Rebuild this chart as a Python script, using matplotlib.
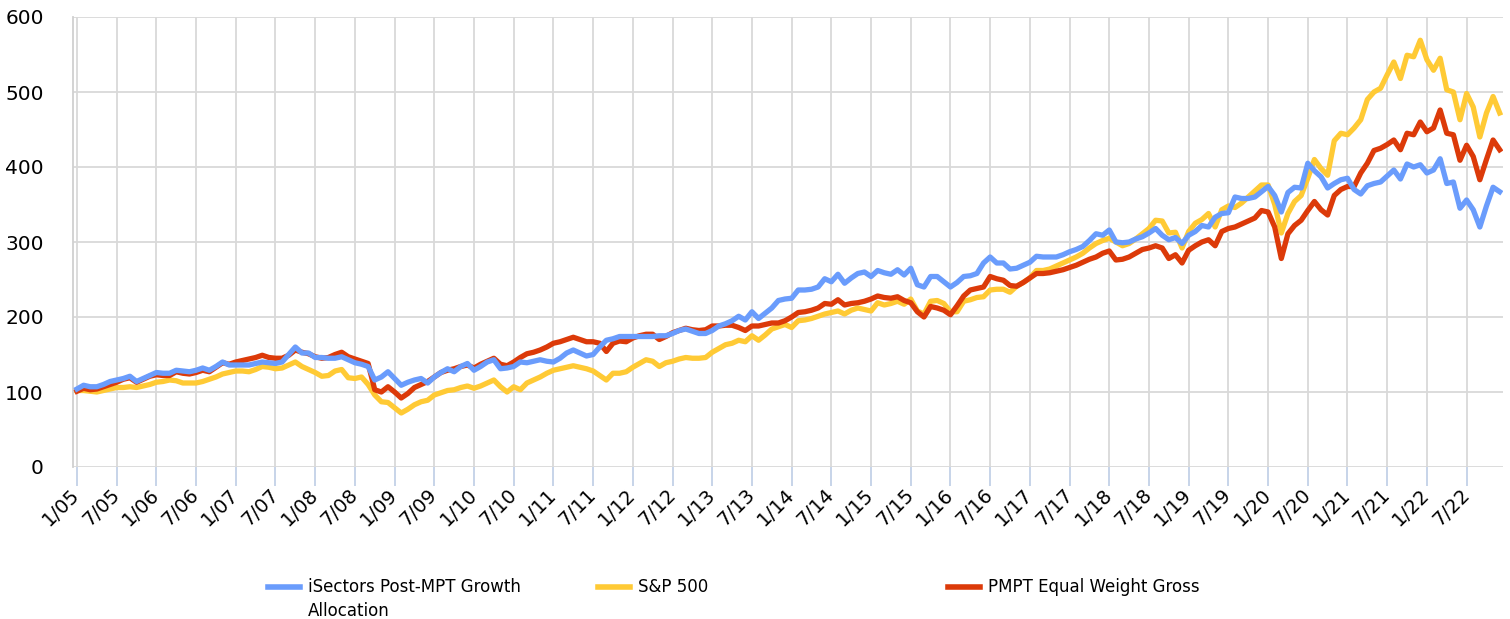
import matplotlib
matplotlib.use("Agg")
import matplotlib.pyplot as plt
from matplotlib.lines import Line2D
import numpy as np

# monthly index values, 1/05 .. 12/22
isectors = [
    104, 109, 107, 107, 110, 114, 116, 118, 121, 114, 118, 122,  # 2005
    126, 125, 125, 129, 128, 127, 129, 132, 129, 134, 140, 136,  # 2006
    136, 136, 136, 138, 140, 139, 138, 140, 150, 160, 152, 152,  # 2007
    146, 146, 145, 145, 147, 143, 139, 137, 134, 116, 120, 127,  # 2008
    118, 109, 113, 116, 118, 112, 120, 126, 131, 127, 134, 138,  # 2009
    129, 134, 140, 143, 131, 132, 134, 140, 139, 141, 143, 141,  # 2010
    140, 145, 152, 156, 152, 148, 150, 160, 169, 171, 174, 174,  # 2011
    174, 174, 174, 174, 175, 175, 178, 182, 184, 181, 178, 178,  # 2012
    182, 188, 191, 195, 201, 196, 207, 198, 205, 212, 222, 224,  # 2013
    225, 236, 236, 237, 240, 251, 247, 257, 245, 252, 258, 260,  # 2014
    254, 262, 259, 257, 263, 256, 265, 243, 240, 254, 254, 247,  # 2015
    240, 246, 254, 255, 258, 272, 280, 272, 272, 264, 265, 269,  # 2016
    273, 281, 280, 280, 280, 283, 287, 290, 294, 302, 311, 309,  # 2017
    316, 300, 299, 300, 304, 307, 312, 318, 309, 303, 306, 298,  # 2018
    309, 314, 322, 320, 333, 338, 339, 360, 358, 358, 360, 367,  # 2019
    374, 362, 340, 366, 373, 372, 405, 395, 387, 372, 378, 383,  # 2020
    385, 370, 364, 375, 378, 380, 388, 396, 384, 404, 400, 403,  # 2021
    392, 396, 411, 378, 380, 345, 356, 343, 320, 348, 373, 367,  # 2022
]

sp500 = [
    102, 102, 101, 100, 102, 104, 106, 106, 107, 106, 108, 110,  # 2005
    113, 114, 116, 115, 112, 112, 112, 114, 117, 120, 124, 126,  # 2006
    128, 128, 127, 130, 134, 133, 131, 132, 136, 140, 134, 130,  # 2007
    126, 121, 122, 128, 130, 119, 118, 120, 110, 96, 87, 86,  # 2008
    79, 72, 77, 83, 87, 89, 96, 99, 102, 103, 106, 108,  # 2009
    105, 108, 112, 116, 107, 100, 107, 103, 112, 116, 120, 125,  # 2010
    129, 131, 133, 135, 133, 131, 128, 122, 116, 125, 125, 127,  # 2011
    133, 138, 143, 141, 134, 139, 141, 144, 146, 145, 145, 146,  # 2012
    153, 158, 163, 165, 169, 167, 175, 169, 176, 184, 187, 190,  # 2013
    186, 195, 196, 198, 201, 204, 206, 208, 204, 209, 212, 210,  # 2014
    208, 219, 216, 218, 221, 217, 224, 208, 204, 221, 222, 218,  # 2015
    207, 207, 221, 223, 226, 227, 236, 237, 237, 233, 241, 246,  # 2016
    252, 262, 262, 264, 268, 272, 276, 280, 285, 292, 298, 302,  # 2017
    305, 300, 295, 298, 304, 311, 318, 329, 328, 312, 313, 292,  # 2018
    314, 325, 330, 338, 320, 343, 348, 346, 352, 360, 368, 376,  # 2019
    376, 350, 312, 338, 354, 362, 385, 410, 398, 389, 435, 445,  # 2020
    443, 452, 463, 490, 500, 505, 523, 540, 518, 549, 547, 569,  # 2021
    543, 529, 545, 503, 500, 463, 498, 480, 440, 472, 494, 472,  # 2022
]

pmpt = [
    101, 105, 103, 104, 107, 110, 113, 117, 119, 113, 117, 121,  # 2005
    123, 122, 122, 127, 125, 124, 126, 129, 127, 133, 139, 137,  # 2006
    140, 142, 144, 146, 149, 146, 145, 145, 149, 156, 153, 151,  # 2007
    147, 145, 146, 150, 153, 147, 144, 141, 138, 103, 100, 107,  # 2008
    100, 92, 98, 106, 110, 114, 120, 126, 129, 131, 134, 136,  # 2009
    132, 137, 141, 145, 137, 135, 140, 146, 151, 153, 156, 160,  # 2010
    165, 167, 170, 173, 170, 167, 167, 165, 154, 165, 168, 167,  # 2011
    172, 175, 177, 177, 170, 174, 179, 182, 185, 183, 182, 183,  # 2012
    188, 188, 189, 189, 186, 182, 188, 188, 190, 192, 192, 195,  # 2013
    200, 206, 207, 209, 212, 218, 217, 223, 216, 218, 219, 221,  # 2014
    224, 228, 226, 225, 227, 222, 219, 207, 200, 214, 212, 209,  # 2015
    203, 215, 228, 236, 238, 240, 254, 251, 249, 242, 241, 246,  # 2016
    252, 258, 258, 259, 261, 263, 266, 269, 273, 277, 280, 285,  # 2017
    288, 276, 277, 280, 285, 290, 292, 295, 292, 278, 283, 272,  # 2018
    289, 295, 300, 303, 295, 314, 318, 320, 324, 328, 332, 342,  # 2019
    340, 320, 278, 311, 322, 329, 342, 354, 343, 336, 362, 370,  # 2020
    374, 374, 392, 405, 422, 425, 430, 436, 423, 445, 443, 460,  # 2021
    447, 452, 476, 445, 443, 409, 429, 414, 383, 410, 436, 423,  # 2022
]

tick_labels = []
for yy in range(5, 23):
    tick_labels += ["1/%02d" % yy, "7/%02d" % yy]

labels = ["iSectors Post-MPT Growth\nAllocation", "S&P 500", "PMPT Equal Weight Gross"]
colors = ["#6a9cfc", "#ffca35", "#dc3a09"]

x = np.arange(len(isectors))

fig = plt.figure(figsize=(15.1, 6.19), dpi=100)
ax = fig.add_axes([73 / 1510, 1 - 467 / 619, (1503 - 73) / 1510, (467 - 17) / 619])

ax.plot(x, sp500, color=colors[1], lw=3.8, zorder=3, solid_joinstyle="round")
ax.plot(x, pmpt, color=colors[2], lw=3.8, zorder=4, solid_joinstyle="round")
ax.plot(x, isectors, color=colors[0], lw=3.8, zorder=5, solid_joinstyle="round")

ax.set_xlim(-0.6, 215.5)
ax.set_ylim(0, 600)
ax.set_yticks(range(0, 601, 100))
ax.set_xticks(np.arange(0, len(x), 6))
ax.set_xticklabels(tick_labels, rotation=45, ha="right", va="center",
                   rotation_mode="anchor", fontsize=14)

ax.grid(True, color="#d9d9d9", lw=1.3, zorder=0)
ax.set_axisbelow(True)
for s in ["top", "right", "bottom"]:
    ax.spines[s].set_visible(False)
ax.spines["left"].set_color("#d0d0d0")
ax.spines["left"].set_linewidth(1.3)

ax.tick_params(axis="y", length=0, pad=21, labelsize=14.5)
ax.tick_params(axis="x", length=14, width=1.1, color="#b8c9e3", pad=4)

# legend drawn by hand to keep Excel-like placement
fig.add_artist(Line2D([268 / 1510, 300 / 1510], [1 - 587 / 619] * 2, color=colors[0], lw=4))
fig.add_artist(Line2D([598 / 1510, 630 / 1510], [1 - 587 / 619] * 2, color=colors[1], lw=4))
fig.add_artist(Line2D([948 / 1510, 980 / 1510], [1 - 587 / 619] * 2, color=colors[2], lw=4))
fig.text(308 / 1510, 1 - 578 / 619, labels[0], fontsize=12, va="top", linespacing=1.4)
fig.text(638 / 1510, 1 - 578 / 619, labels[1], fontsize=12, va="top")
fig.text(988 / 1510, 1 - 578 / 619, labels[2], fontsize=12, va="top")

fig.savefig("out.png", dpi=100)
